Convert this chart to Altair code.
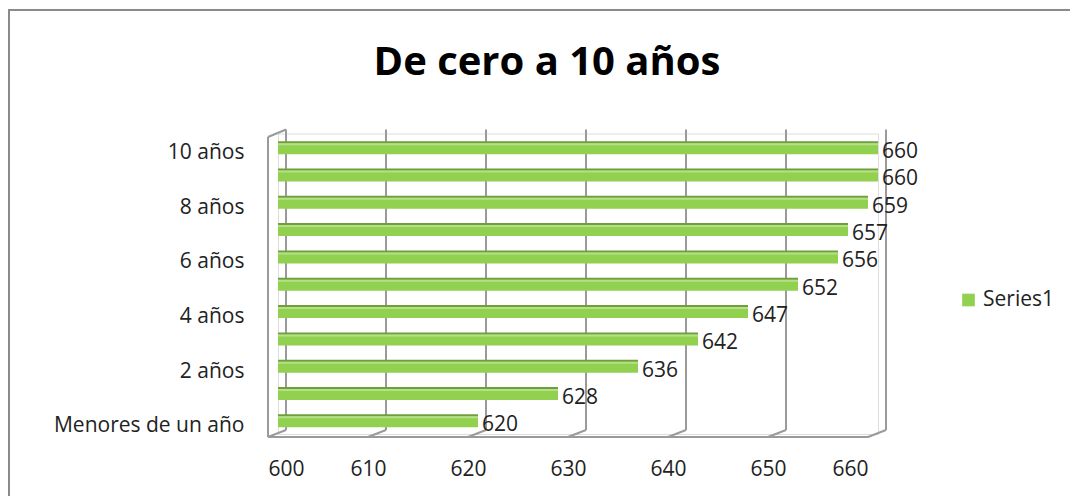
import altair as alt
import pandas as pd

categories = ["Menores de un año", "1 año", "2 años", "3 años", "4 años", "5 años",
              "6 años", "7 años", "8 años", "9 años", "10 años"]
values = [620, 628, 636, 642, 647, 652, 656, 657, 659, 660, 660]
shown_labels = ["10 años", "8 años", "6 años", "4 años", "2 años", "Menores de un año"]
x_ticks = [600, 610, 620, 630, 640, 650, 660]
series_name = "Series1"
title_text = "De cero a 10 años"

df = pd.DataFrame({"cat": categories, "val": values, "base": [600] * len(values),
                   "series": [series_name] * len(values)})
grid_df = pd.DataFrame({"t": x_ticks})

FONT = "Open Sans"
GREEN = "#92D050"
GREY = "#9a9a9a"
TXT = "#222222"
xs = alt.Scale(domain=[600, 660], nice=False, zero=False)
order = categories[::-1]

ys = alt.Y("cat:N", sort=order, title=None,
           axis=alt.Axis(values=shown_labels, domain=False, ticks=False, labelPadding=34,
                         labelFontSize=21, labelFont=FONT, labelColor=TXT,
                         labelOffset=6, labelLimit=400))

# outer chart border
border = alt.Chart(pd.DataFrame({"a": [0]})).mark_rect(
    fill=None, stroke="#8a8a8a", strokeWidth=2
).encode(x=alt.value(-269), x2=alt.value(802), y=alt.value(-123.5), y2=alt.value(373))

title = alt.Chart(pd.DataFrame({"t": [title_text]})).mark_text(
    fontSize=40, font=FONT, fontWeight="bold", color="#000000",
    align="center", baseline="middle"
).encode(text="t:N", x=alt.value(269), y=alt.value(-71))

# back-wall gridlines
grid = alt.Chart(grid_df).mark_rule(color=GREY, strokeWidth=2, xOffset=8).encode(
    x=alt.X("t:Q", scale=xs, title=None,
            axis=alt.Axis(values=x_ticks, domain=False, ticks=False, grid=False,
                          labelFontSize=21, labelFont=FONT, labelColor=TXT,
                          labelPadding=24, labelOffset=-10)),
    y=alt.value(-4), y2=alt.value(296.5))
# floor diagonals
diag = alt.Chart(grid_df).mark_rule(color=GREY, strokeWidth=2, xOffset=8, x2Offset=-10).encode(
    x=alt.X("t:Q", scale=xs), x2="t:Q", y=alt.value(296.5), y2=alt.value(303.5))
# front floor line
floor = alt.Chart(pd.DataFrame({"a": [600], "b": [660]})).mark_rule(
    color=GREY, strokeWidth=2, xOffset=-10, x2Offset=-10
).encode(x=alt.X("a:Q", scale=xs), x2="b:Q", y=alt.value(303.5))
# left wall front edge and top slant
wall = alt.Chart(pd.DataFrame({"a": [600]})).mark_rule(
    color=GREY, strokeWidth=2, xOffset=-10
).encode(x=alt.X("a:Q", scale=xs), y=alt.value(3.5), y2=alt.value(303.5))
wall_top = alt.Chart(pd.DataFrame({"a": [600]})).mark_rule(
    color=GREY, strokeWidth=2, xOffset=-10, x2Offset=8
).encode(x=alt.X("a:Q", scale=xs), x2="a:Q", y=alt.value(3.5), y2=alt.value(-4))

bars = alt.Chart(df).mark_bar(size=12, yOffset=1).encode(
    x=alt.X("base:Q", scale=xs), x2="val:Q", y=ys,
    color=alt.Color("series:N", scale=alt.Scale(range=[GREEN]), title=None,
                    legend=alt.Legend(orient="none", legendX=680, legendY=156,
                                      symbolType="square", symbolSize=160,
                                      symbolStrokeWidth=0, labelFontSize=21,
                                      labelFont=FONT, labelColor=TXT)))
bar_top = alt.Chart(df).mark_rule(color="#6f9e3a", strokeWidth=2, yOffset=-5).encode(
    x=alt.X("base:Q", scale=xs), x2="val:Q", y=alt.Y("cat:N", sort=order))
bar_hi = alt.Chart(df).mark_rule(color="#b5e08a", strokeWidth=2, yOffset=-3).encode(
    x=alt.X("base:Q", scale=xs), x2="val:Q", y=alt.Y("cat:N", sort=order))
labels = alt.Chart(df).mark_text(align="left", baseline="middle", dx=4, dy=5,
                                 fontSize=21, font=FONT, color=TXT).encode(
    x=alt.X("val:Q", scale=xs), y=alt.Y("cat:N", sort=order), text="val:Q")

chart = alt.layer(border, title, grid, diag, floor, wall, wall_top, bars, bar_top, bar_hi, labels).properties(
    width=600, height=300.5,
    autosize=alt.AutoSizeParams(type="none"),
    padding={"left": 270, "top": 125.5, "right": 192, "bottom": 62},
).configure_view(stroke=None).configure(background="white")

chart.save("out.html", embed_options={"renderer": "svg", "actions": False})
